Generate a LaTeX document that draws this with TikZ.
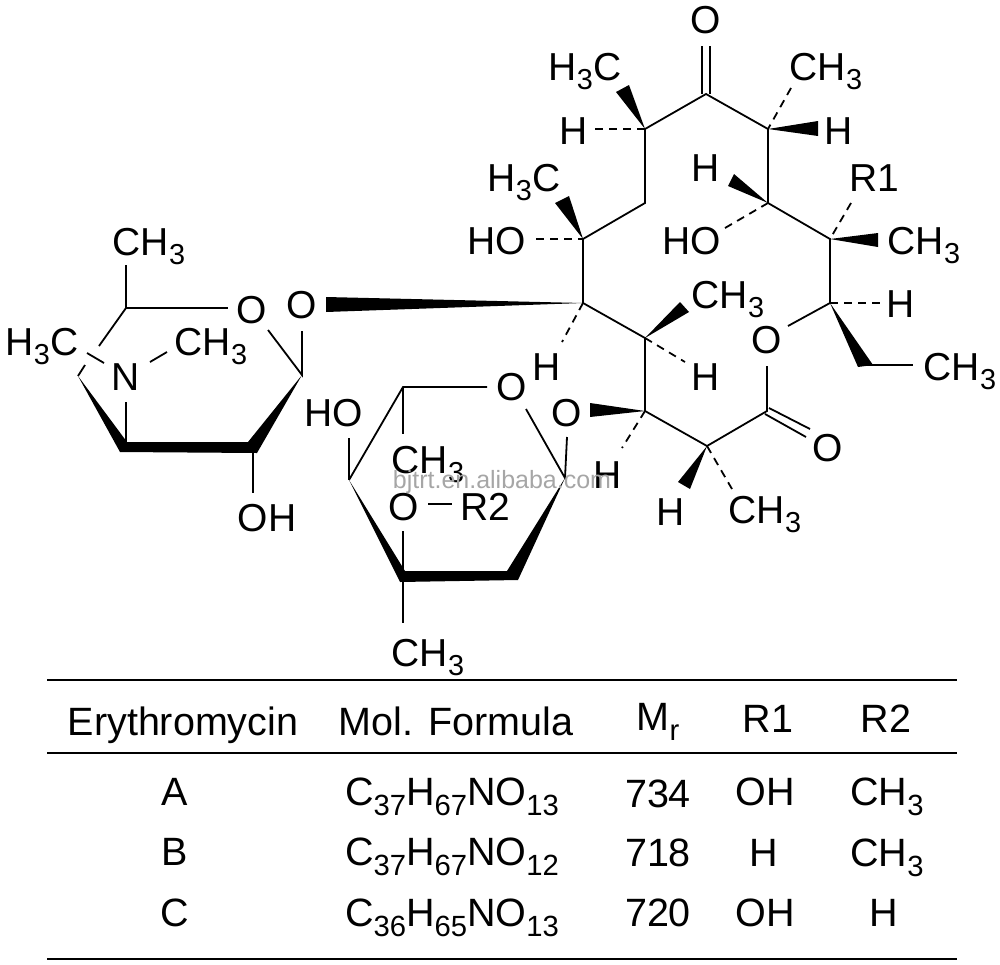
\documentclass[tikz,border=0pt]{standalone}
\usepackage{fontspec}
\setmainfont{Liberation Sans}
\usetikzlibrary{positioning,calc}
\tikzset{
 bond/.style={line width=1.8pt},
 dbond/.style={line width=1.8pt, dash pattern=on 8pt off 6pt},
 wedge/.style={fill=black, draw=none},
 atom/.style={inner sep=0pt, anchor=center, font=\fontsize{39}{39}\selectfont},
 cell/.style={inner sep=0pt, anchor=center, font=\fontsize{39.5}{39.5}\selectfont},
 rule/.style={line width=1.8pt}
}
\newcommand{\sub}[1]{\smash{\raisebox{-0.24em}{\scalebox{.74}{#1}}}}
\begin{document}
\begin{tikzpicture}[x=1pt,y=-1pt]
\useasboundingbox (0,0) rectangle (1000,964);
% macrolide ring
\coordinate (c1) at (706,94);
\coordinate (c2) at (768,129);
\coordinate (c3) at (768,203);
\coordinate (c4) at (830,239);
\coordinate (c5) at (830,303);
\coordinate (c6) at (645,129);
\coordinate (c7) at (645,203);
\coordinate (c8) at (583,239);
\coordinate (c9) at (583,303);
\coordinate (c10) at (645,338);
\coordinate (c11) at (645,411);
\coordinate (c12) at (707,446);
\coordinate (c13) at (767,411);
\node[atom] (Oring) at (767,340) {O};
\node[atom] (Otop) at (706,20) {O};
\node[atom] (Oco) at (828,448) {O};
\coordinate (Oring1) at (788,326);
\coordinate (Oring2) at (767,366);
\draw[bond] (Oring1) -- (c5) -- (c4) -- (c3) -- (c2) -- (c1) -- (c6) -- (c7) -- (c8) -- (c9) -- (c10) -- (c11) -- (c12) -- (c13) -- (Oring2);
\draw[bond] ($(c1)+(-4,0)$) -- ($(Otop)+(-4,26)$);
\draw[bond] ($(c1)+(4,0)$) -- ($(Otop)+(4,26)$);
\draw[bond] ($(c13)+(2,-3)$) -- ($(Oco)+(-18,-19)$);
\draw[bond] ($(c13)+(-2,3)$) -- ($(Oco)+(-22,-11)$);
% top substituents
\node[atom] (h3ca) at (585,67) {H\sub{3}C};
\fill[wedge] (c6) -- (616,92) -- (629,85) -- cycle;
\node[atom] (ha) at (574,131) {H};
\coordinate (ha1) at (595,129);
\draw[dbond] (ha1) -- (c6);
\node[atom] (ch3b) at (826,67) {CH\sub{3}};
\coordinate (ch3b1) at (791,88);
\draw[dbond] (ch3b1) -- (c2);
\node[atom] (hb) at (839,131) {H};
\fill[wedge] (c2) -- (818,121) -- (818,136) -- cycle;
\node[atom] (hc) at (706,168) {H};
\fill[wedge] (c3) -- (734,174) -- (728,186) -- cycle;
\node[atom] (hoa) at (692,241) {HO};
\coordinate (hoa1) at (725,228);
\draw[dbond] (hoa1) -- (c3);
\node[atom] (r1) at (874,178) {R1};
\coordinate (r11) at (851,203);
\draw[dbond] (r11) -- (c4);
\node[atom] (ch3c) at (924,241) {CH\sub{3}};
\fill[wedge] (c4) -- (878,233) -- (878,247) -- cycle;
\node[atom] (h3cd) at (524,178) {H\sub{3}C};
\fill[wedge] (c8) -- (555,203) -- (569,196) -- cycle;
\node[atom] (hob) at (497,241) {HO};
\coordinate (hob1) at (536,239);
\draw[dbond] (hob1) -- (c8);
% lower substituents
\node[atom] (hd) at (901,304) {H};
\coordinate (hd1) at (881,303);
\draw[dbond] (c5) -- (hd1);
\fill[wedge] (c5) -- (873,365) -- (858,367) -- cycle;
\coordinate (et) at (866,365);
\coordinate (et1) at (913,365);
\draw[bond] (et) -- (et1);
\node[atom] (ch3e) at (960,367) {CH\sub{3}};
\node[atom] (ch3f) at (728,295) {CH\sub{3}};
\fill[wedge] (c10) -- (680,302) -- (689,312) -- cycle;
\node[atom] (he) at (706,377) {H};
\coordinate (he1) at (685,362);
\draw[dbond] (c10) -- (he1);
\node[atom] (hf) at (547,367) {H};
\coordinate (hf1) at (562,342);
\draw[dbond] (c9) -- (hf1);
\node[atom] (Ogly) at (302,305) {O};
\fill[wedge] (c9) -- (326,297) -- (326,312) -- cycle;
\node[atom] (Ogla) at (567,413) {O};
\fill[wedge] (c11) -- (590,403) -- (590,417) -- cycle;
\node[atom] (hg) at (608,475) {H};
\coordinate (hg1) at (622,448);
\draw[dbond] (c11) -- (hg1);
\node[atom] (hh) at (671,512) {H};
\fill[wedge] (c12) -- (678,482) -- (690,489) -- cycle;
\node[atom] (ch3g) at (765,510) {CH\sub{3}};
\coordinate (ch3g1) at (732,489);
\draw[dbond] (c12) -- (ch3g1);
% desosamine
\coordinate (d1) at (126,308);
\coordinate (d2) at (78,376);
\coordinate (d3) at (126,442);
\coordinate (d4) at (253,447);
\coordinate (d5) at (302,375);
\node[atom] (Od) at (252,310) {O};
\node[atom] (Nd) at (126,377) {N};
\node[atom] (ch3h) at (149,242) {CH\sub{3}};
\node[atom] (h3ci) at (42,342) {H\sub{3}C};
\node[atom] (ch3j) at (211,342) {CH\sub{3}};
\node[atom] (ohd) at (267,518) {OH};
\coordinate (ch3h1) at (126,265);
\coordinate (Od1) at (228,308);
\coordinate (Od2) at (268,330);
\coordinate (g1) at (99,346);
\coordinate (g2) at (85,365);
\coordinate (n1) at (87,353);
\coordinate (n2) at (104,363);
\coordinate (n3) at (150,362);
\coordinate (n4) at (167,352);
\coordinate (n5) at (126,402);
\coordinate (Og1) at (302,331);
\coordinate (oh1) at (253,493);
\draw[bond] (ch3h1) -- (d1) -- (Od1);
\draw[bond] (d1) -- (g1);
\draw[bond] (g2) -- (d2);
\draw[bond] (n1) -- (n2);
\draw[bond] (n3) -- (n4);
\draw[bond] (n5) -- (d3);
\draw[bond] (Od2) -- (d5) -- (Og1);
\draw[bond] (d4) -- (oh1);
\fill[wedge] (d2) -- (127,442) -- (248,442) -- (d5) -- (257,453) -- (120,452) -- cycle;
% cladinose
\coordinate (e1) at (403,387);
\coordinate (e2) at (349,480);
\coordinate (e3) at (403,576);
\coordinate (e4) at (565,478);
\node[atom] (Oe) at (512,387) {O};
\node[atom] (hoe) at (334,413) {HO};
\node[atom] (ch3k) at (428,460) {CH\sub{3}};
\node[atom] (Or) at (404,507) {O};
\node[atom] (r2) at (485,507) {R2};
\node[atom] (ch3l) at (428,653) {CH\sub{3}};
\coordinate (Oe1) at (487,387);
\coordinate (Oe2) at (526,409);
\coordinate (hoe1) at (349,438);
\coordinate (ch3k1) at (403,434);
\coordinate (Or1) at (403,531);
\coordinate (Or2) at (428,504);
\coordinate (r21) at (452,504);
\coordinate (ch3l1) at (403,623);
\coordinate (Og2) at (567,437);
\draw[bond] (e2) -- (e1) -- (Oe1);
\draw[bond] (e1) -- (ch3k1);
\draw[bond] (hoe1) -- (e2);
\draw[bond] (Or2) -- (r21);
\draw[bond] (Or1) -- (ch3l1);
\draw[bond] (Oe2) -- (e4) -- (Og2);
\fill[wedge] (e2) -- (405,571) -- (507,571) -- (e4) -- (518,580) -- (400,582) -- cycle;
% table
\coordinate (r1a) at (47,680); \coordinate (r1b) at (957,680);
\coordinate (r2a) at (47,753); \coordinate (r2b) at (957,753);
\coordinate (r3a) at (47,959); \coordinate (r3b) at (957,959);
\draw[rule] (r1a) -- (r1b);
\draw[rule] (r2a) -- (r2b);
\draw[rule] (r3a) -- (r3b);
\node[cell, anchor=base] (tha) at (183,735) {Erythromycin};
\node[cell, anchor=base] (thb) at (456,735) {Mol. Formula};
\node[cell] (thc) at (658,717) {M\sub{r}};
\node[cell] (thd) at (768,719) {R1};
\node[cell] (the) at (886,719) {R2};
\node[cell] (a1) at (175,792) {A};
\node[cell] (a2) at (452,792) {C\sub{37}H\sub{67}NO\sub{13}};
\node[cell] (a3) at (658,794) {734};
\node[cell] (a4) at (765,792) {OH};
\node[cell] (a5) at (887,792) {CH\sub{3}};
\node[cell] (b1) at (175,852) {B};
\node[cell] (b2) at (452,852) {C\sub{37}H\sub{67}NO\sub{12}};
\node[cell] (b3) at (658,853) {718};
\node[cell] (b4) at (764,853) {H};
\node[cell] (b5) at (887,853) {CH\sub{3}};
\node[cell] (c1t) at (175,913) {C};
\node[cell] (c2t) at (452,913) {C\sub{36}H\sub{65}NO\sub{13}};
\node[cell] (c3t) at (658,913) {720};
\node[cell] (c4t) at (765,913) {OH};
\node[cell] (c5t) at (884,913) {H};
% watermark
\node[inner sep=0pt, text=black!35, font=\fontsize{25}{25}\selectfont] (mark) at (502,482) {bjtrt.en.alibaba.com};
\end{tikzpicture}
\end{document}
